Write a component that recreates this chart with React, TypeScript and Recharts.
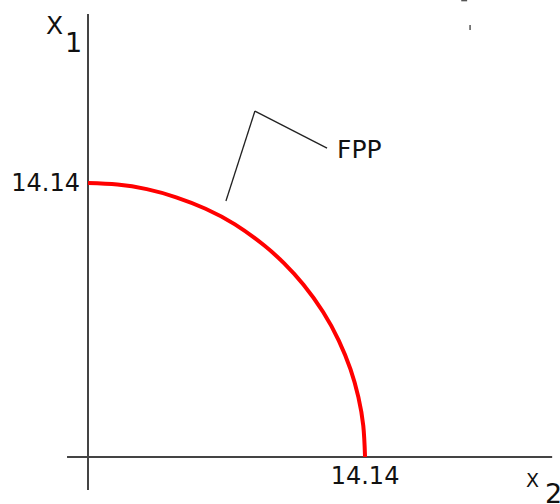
import React from 'react';
import { ComposedChart, Line, XAxis, YAxis, ReferenceLine } from 'recharts';

// Points along the production possibility frontier (x2 horizontal, x1 vertical)
const x2Values = [0, 1.5, 3, 4.5, 6, 7.5, 9, 10, 11, 12, 12.8, 13.4, 13.8, 14.05, 14.14];
const x1Values = [14.14, 14.06, 13.82, 13.4, 12.81, 12.0, 10.91, 10.0, 8.89, 7.48, 6.01, 4.52, 3.09, 1.61, 0];

// Intercept tick labels on each axis
const x1Ticks = [14.14];
const x2Ticks = [14.14];

// Leader line for the "FPP" callout: elbow, text end, curve end
const calloutElbow = { x: 8.52, y: 17.85 };
const calloutText = { x: 12.2, y: 15.94 };
const calloutCurve = { x: 7.04, y: 13.21 };

const data = x2Values.map((x2, i) => ({ x2, x1: x1Values[i] }));

const FONT = "'DejaVu Sans', Verdana, sans-serif";
const AXIS_COLOR = '#444';

const Titles = () => (
  <g fontFamily={FONT} fill="#111">
    <text x={46} y={34} fontSize={25}>X</text>
    <text x={65} y={52} fontSize={27}>1</text>
    <text x={526} y={487} fontSize={19}>X</text>
    <text x={545} y={503} fontSize={27}>2</text>
    <text x={337} y={158} fontSize={25}>FPP</text>
  </g>
);

export default function App() {
  return (
    <div style={{ position: 'absolute', left: 0, top: 0, width: 560, height: 504, background: '#fff' }}>
      <ComposedChart width={560} height={504} data={data} margin={{ top: 0, right: 0, bottom: 0, left: 0 }}>
        <XAxis
          dataKey="x2"
          type="number"
          domain={[0, 24.09]}
          allowDataOverflow
          ticks={x2Ticks}
          axisLine={false}
          tickLine={false}
          tickSize={0}
          tickMargin={10}
          height={47}
          tick={{ fill: '#111', fontSize: 24, fontFamily: FONT }}
          tickFormatter={(v: number) => v.toFixed(2)}
        />
        <YAxis
          type="number"
          domain={[0, 23.58]}
          allowDataOverflow
          ticks={x1Ticks}
          axisLine={false}
          tickLine={false}
          tickSize={0}
          tickMargin={8}
          width={88}
          tick={{ fill: '#111', fontSize: 24, fontFamily: FONT }}
          tickFormatter={(v: number) => v.toFixed(2)}
        />
        {/* Axes drawn as crossing lines */}
        <ReferenceLine
          segment={[{ x: 0, y: 22.86 }, { x: 0, y: -1.7 }]}
          stroke={AXIS_COLOR}
          strokeWidth={2}
          ifOverflow="visible"
        />
        <ReferenceLine
          segment={[{ x: -1.07, y: 0 }, { x: 23.69, y: 0 }]}
          stroke={AXIS_COLOR}
          strokeWidth={2}
          ifOverflow="visible"
        />
        <Line
          dataKey="x1"
          type="natural"
          stroke="#ff0000"
          strokeWidth={4}
          dot={false}
          activeDot={false}
          isAnimationActive={false}
        />
        {/* FPP callout */}
        <ReferenceLine
          segment={[calloutCurve, calloutElbow]}
          stroke="#222"
          strokeWidth={1.3}
          ifOverflow="visible"
        />
        <ReferenceLine
          segment={[calloutElbow, calloutText]}
          stroke="#222"
          strokeWidth={1.3}
          ifOverflow="visible"
        />
        {/* small stray marks near the top */}
        <ReferenceLine
          segment={[{ x: 19.5, y: 22.29 }, { x: 19.5, y: 22.03 }]}
          stroke="#555"
          strokeWidth={1.5}
          ifOverflow="visible"
        />
        <ReferenceLine
          segment={[{ x: 19.05, y: 23.55 }, { x: 19.35, y: 23.55 }]}
          stroke="#555"
          strokeWidth={1.5}
          ifOverflow="visible"
        />
        <Titles />
      </ComposedChart>
    </div>
  );
}
